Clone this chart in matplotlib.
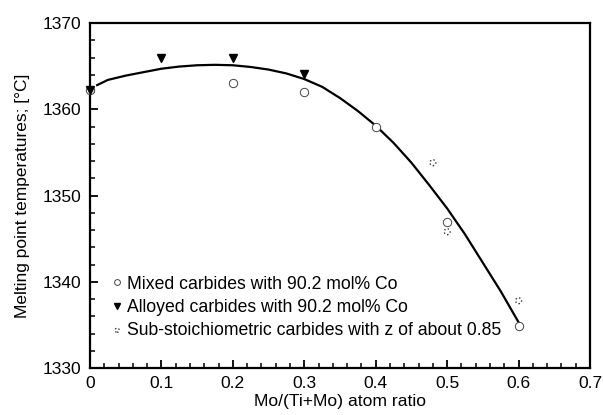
import matplotlib.pyplot as plt
from matplotlib.ticker import MultipleLocator

plt.rcParams['font.family'] = ['Liberation Sans', 'DejaVu Sans']

# mixed carbides with 90.2 mol% Co (open circles)
mixed_x = [0.0, 0.2, 0.3, 0.4, 0.5, 0.6]
mixed_y = [1362.2, 1363.1, 1362.0, 1358.0, 1346.9, 1334.9]

# alloyed carbides with 90.2 mol% Co (filled triangles)
alloy_x = [0.0, 0.1, 0.2, 0.3]
alloy_y = [1362.2, 1366.0, 1366.0, 1364.1]

# sub-stoichiometric carbides (small dotted circles)
sub_x = [0.48, 0.5, 0.6]
sub_y = [1353.8, 1345.8, 1337.8]

# fitted curve
fit_x = [0.01, 0.025, 0.05, 0.075, 0.1, 0.125, 0.15, 0.175, 0.2, 0.225, 0.25,
         0.275, 0.3, 0.325, 0.35, 0.375, 0.4, 0.425, 0.45, 0.475, 0.5, 0.525,
         0.55, 0.575, 0.6]
fit_y = [1362.8, 1363.4, 1363.9, 1364.3, 1364.7, 1364.95, 1365.1, 1365.15,
         1365.1, 1364.9, 1364.6, 1364.15, 1363.5, 1362.6, 1361.3, 1359.8,
         1358.1, 1356.1, 1353.8, 1351.2, 1348.5, 1345.5, 1342.2, 1338.9, 1335.3]

fig = plt.figure(figsize=(6.03, 4.15), dpi=100)
ax = fig.add_axes([90/603, 1 - 368/415, 500/603, 345/415])

ax.plot(fit_x, fit_y, color='black', lw=1.6, zorder=2)
ax.plot(mixed_x, mixed_y, 'o', ms=6, mfc='white', mec='#444444', mew=0.7,
        ls='none', label='Mixed carbides with 90.2 mol% Co', zorder=3, clip_on=False)
ax.plot(alloy_x, alloy_y, 'v', ms=6, color='black', ls='none',
        label='Alloyed carbides with 90.2 mol% Co', zorder=4, clip_on=False)
ax.scatter(sub_x, sub_y, s=18, facecolors='white', edgecolors='#333333',
           linewidths=1.0, linestyles=':',
           label='Sub-stoichiometric carbides with z of about 0.85', zorder=3)

ax.set_xlim(0, 0.7)
ax.set_ylim(1330, 1370)
ax.set_xticks([0, 0.1, 0.2, 0.3, 0.4, 0.5, 0.6, 0.7])
ax.set_xticklabels(['0', '0.1', '0.2', '0.3', '0.4', '0.5', '0.6', '0.7'])
ax.xaxis.set_minor_locator(MultipleLocator(0.02))
ax.yaxis.set_major_locator(MultipleLocator(10))
ax.yaxis.set_minor_locator(MultipleLocator(2))
ax.tick_params(which='major', direction='in', length=6, width=1.3, labelsize=12.5, pad=6)
ax.tick_params(which='minor', direction='in', length=3.5, width=1.1)
for s in ax.spines.values():
    s.set_linewidth(1.6)

ax.set_xlabel('Mo/(Ti+Mo) atom ratio', fontsize=12.6, labelpad=2)
ax.set_ylabel('Melting point temperatures; [°C]', fontsize=12.5, labelpad=9)

ax.legend(loc='lower left', bbox_to_anchor=(0.026, 0.064), frameon=False, fontsize=12.7,
          handletextpad=0.15, handlelength=0.8, labelspacing=0.35, markerscale=0.7,
          borderaxespad=0)

fig.savefig('out.png', dpi=100)
